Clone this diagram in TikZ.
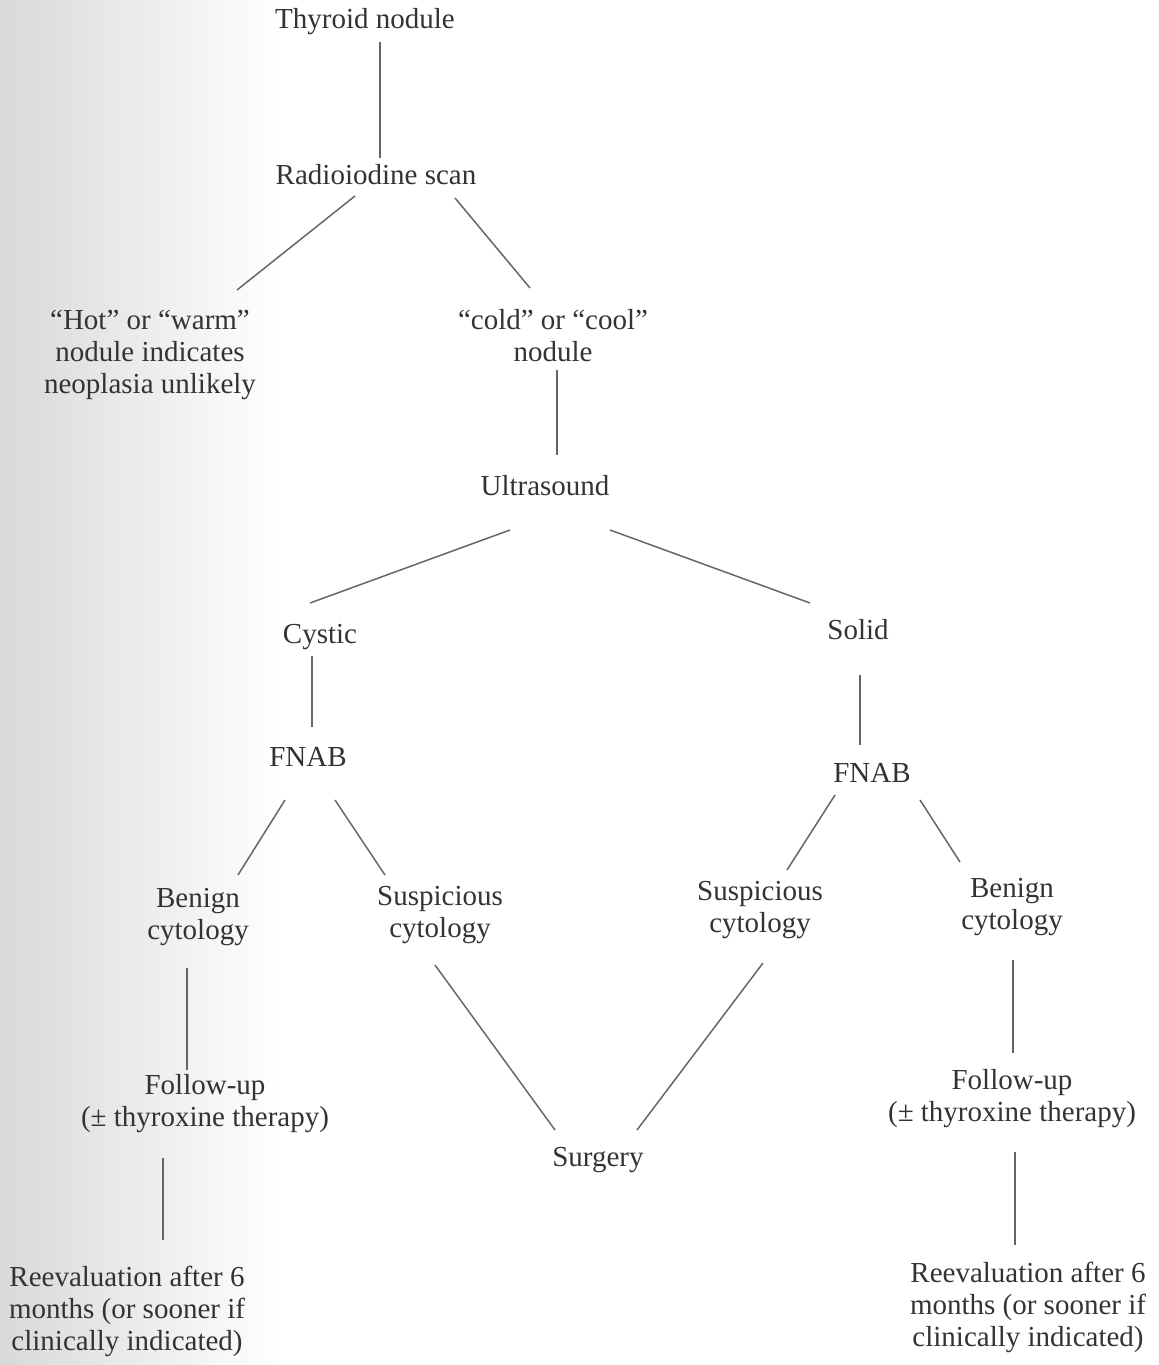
\documentclass[tikz,border=0pt]{standalone}
\usepackage{fontspec}
\setmainfont{Liberation Serif}
\usetikzlibrary{calc}

\begin{document}
\begin{tikzpicture}[x=0.5pt,y=-0.5pt,line width=.75pt,
  every node/.style={font=\fontsize{14.5}{16}\selectfont,text=black!80,align=center,inner sep=0pt},
  link/.style={draw=black!60}]
\useasboundingbox (0,0) rectangle (1158,1365);
\shade[left color=black!15,right color=white,draw=none] (0,0) rectangle (280,1365);
\node (thy) at (365,22) {Thyroid nodule};
\node (rad) at (376,175) {Radioiodine scan};
\node (hot) at (150,355) {``Hot'' or ``warm''\\nodule indicates\\neoplasia unlikely};
\node (cold) at (553,336) {``cold'' or ``cool''\\nodule};
\node (us) at (545,486) {Ultrasound};
\node (cys) at (320,637) {Cystic};
\node (sol) at (858,630) {Solid};
\node (fnl) at (308,757) {FNAB};
\node (fnr) at (872,773) {FNAB};
\node (benl) at (198,917) {Benign\\cytology};
\node (susl) at (440,915) {Suspicious\\cytology};
\node (susr) at (760,910) {Suspicious\\cytology};
\node (benr) at (1012,907) {Benign\\cytology};
\node (ful) at (205,1104) {Follow-up\\(± thyroxine therapy)};
\node (fur) at (1012,1099) {Follow-up\\(± thyroxine therapy)};
\node (surg) at (598,1160) {Surgery};
\node (revl) at (127,1311) {Reevaluation after 6\\months (or sooner if\\clinically indicated)};
\node (revr) at (1028,1307) {Reevaluation after 6\\months (or sooner if\\clinically indicated)};
% top part
\draw[link] ($(thy)+(15,20)$) -- ($(rad)+(4,-17)$);
\draw[link] ($(rad)+(-21,21)$) -- ($(hot)+(87,-65)$);
\draw[link] ($(rad)+(79,23)$) -- ($(cold)+(-23,-48)$);
\draw[link] ($(cold)+(4,34)$) -- ($(us)+(12,-31)$);
\draw[link] ($(us)+(-35,44)$) -- ($(cys)+(-10,-34)$);
\draw[link] ($(us)+(65,44)$) -- ($(sol)+(-48,-27)$);
% cystic branch
\draw[link] ($(cys)+(-8,19)$) -- ($(fnl)+(4,-30)$);
\draw[link] ($(fnl)+(-23,43)$) -- ($(benl)+(40,-42)$);
\draw[link] ($(fnl)+(27,43)$) -- ($(susl)+(-55,-40)$);
\draw[link] ($(benl)+(-11,51)$) -- ($(ful)+(-18,-34)$);
\draw[link] ($(ful)+(-42,54)$) -- ($(revl)+(36,-71)$);
% solid branch
\draw[link] ($(sol)+(2,45)$) -- ($(fnr)+(-12,-28)$);
\draw[link] ($(fnr)+(-37,22)$) -- ($(susr)+(27,-40)$);
\draw[link] ($(fnr)+(48,27)$) -- ($(benr)+(-52,-45)$);
\draw[link] ($(benr)+(1,53)$) -- ($(fur)+(1,-46)$);
\draw[link] ($(fur)+(3,53)$) -- ($(revr)+(-13,-62)$);
% surgery
\draw[link] ($(susl)+(-5,50)$) -- ($(surg)+(-43,-30)$);
\draw[link] ($(susr)+(3,53)$) -- ($(surg)+(39,-30)$);
\end{tikzpicture}
\end{document}
